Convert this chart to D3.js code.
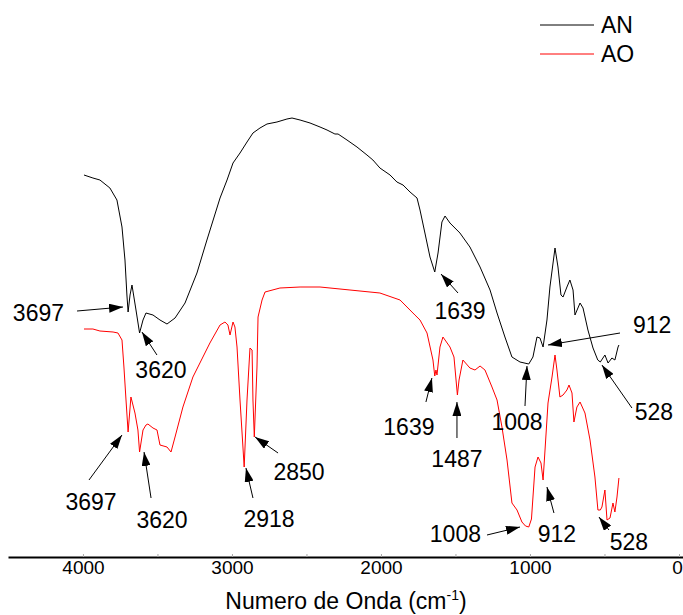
<!DOCTYPE html>
<html>
<head>
<meta charset="utf-8">
<script src="https://cdn.jsdelivr.net/npm/d3@7"></script>
<style>
    body { margin: 0; background: #fff; }
    text { font-family: Arial, "Liberation Sans", sans-serif; fill: #000; }
</style>
</head>
<body>
<script>
// FTIR spectra, AN and AO
// [wavenumber cm-1, transmittance (a.u.)]
var anSpectrum = [
    [3993, 77.0], [3933, 76.4], [3886, 76.0], [3819, 74.4], [3772, 72.0],
    [3738, 66.6], [3718, 60.0], [3705, 53.0], [3697, 49.6], [3684, 53.0],
    [3671, 55.0], [3644, 50.0], [3620, 45.4], [3597, 48.0], [3577, 49.4],
    [3530, 49.0], [3483, 48.0], [3436, 47.2], [3382, 48.4], [3315, 51.4],
    [3235, 57.4], [3168, 64.0], [3080, 72.4], [3033, 76.0], [2993, 79.4],
    [2946, 81.4], [2899, 83.6], [2859, 85.4], [2812, 86.4], [2765, 87.2],
    [2698, 87.6], [2631, 88.2], [2597, 88.4], [2543, 88.0], [2476, 87.4],
    [2409, 86.6], [2362, 86.0], [2309, 85.2], [2288, 85.2], [2228, 84.0],
    [2161, 82.6], [2094, 81.0], [2054, 80.0], [2007, 78.4], [1939, 77.0],
    [1893, 75.6], [1852, 75.0], [1805, 73.6], [1758, 72.4], [1738, 70.0],
    [1705, 65.4], [1671, 60.6], [1639, 57.6], [1617, 61.4], [1591, 67.6],
    [1570, 68.8], [1537, 67.4], [1470, 65.4], [1403, 62.6], [1335, 58.6],
    [1268, 54.0], [1221, 49.4], [1168, 44.6], [1121, 40.6], [1067, 39.6],
    [1008, 39.2], [980, 40.6], [953, 44.6], [933, 44.4], [912, 42.6],
    [886, 48.0], [866, 54.6], [832, 62.4], [812, 58.6], [792, 53.0],
    [778, 52.6], [752, 54.6], [732, 56.0], [711, 54.0], [698, 49.0],
    [664, 51.4], [644, 50.4], [611, 46.0], [577, 42.4], [545, 40.0],
    [528, 39.6], [497, 41.0], [476, 39.4], [450, 40.4], [430, 40.0],
    [409, 42.6], [403, 43.0]
];

var aoSpectrum = [
    [3993, 46.2], [3933, 46.2], [3886, 45.8], [3798, 45.6], [3765, 45.4],
    [3738, 44.0], [3725, 38.6], [3711, 32.0], [3697, 25.6], [3678, 32.6],
    [3651, 29.4], [3631, 26.0], [3620, 21.6], [3597, 26.0], [3577, 27.0],
    [3564, 27.2], [3530, 26.4], [3503, 26.0], [3483, 23.0], [3436, 22.6],
    [3409, 21.6], [3382, 24.6], [3329, 30.6], [3262, 36.6], [3215, 39.4],
    [3148, 43.4], [3080, 47.0], [3047, 47.6], [3027, 47.0], [3013, 45.0],
    [2993, 47.6], [2980, 46.6], [2966, 42.6], [2946, 32.0], [2918, 18.6],
    [2899, 32.0], [2879, 42.4], [2865, 42.0], [2859, 32.0], [2850, 24.6],
    [2832, 38.6], [2825, 48.6], [2798, 52.0], [2778, 53.6], [2678, 54.4],
    [2543, 54.6], [2409, 54.6], [2208, 54.0], [2007, 53.4], [1872, 52.0],
    [1772, 49.0], [1738, 48.0], [1691, 45.4], [1651, 40.0], [1639, 36.8],
    [1631, 38.0], [1624, 37.0], [1604, 42.6], [1584, 44.6], [1537, 42.6],
    [1510, 40.6], [1487, 33.0], [1476, 36.0], [1450, 40.0], [1403, 38.4],
    [1369, 38.0], [1335, 38.8], [1302, 38.0], [1255, 34.6], [1221, 32.0],
    [1188, 26.6], [1154, 20.0], [1121, 11.4], [1087, 10.0], [1054, 7.6],
    [1030, 6.8], [1008, 6.6], [990, 8.2], [966, 18.6], [946, 20.6],
    [926, 19.4], [912, 16.0], [899, 22.0], [879, 31.4], [852, 36.6],
    [832, 41.0], [819, 38.0], [799, 32.6], [778, 33.0], [752, 34.0],
    [738, 35.0], [718, 33.4], [705, 27.6], [685, 30.6], [664, 31.6],
    [631, 29.4], [597, 24.0], [564, 16.6], [544, 10.0], [528, 10.0],
    [517, 10.6], [497, 14.0], [483, 8.0], [463, 8.4], [443, 11.4],
    [430, 9.6], [416, 12.6], [403, 16.4]
];

var seriesNames = ["AN", "AO"];
var seriesColors = ["#000000", "#ff0000"];

var xTicks = [4000, 3500, 3000, 2500, 2000, 1500, 1000, 500, 0];
var xTickLabels = [4000, 3000, 2000, 1000, 0];

// peak labels: text, series, arrow tip [wavenumber, value]
var peakLabels = [
    ["3697", 0, 3731, 50.6], ["3620", 0, 3604, 45.6], ["1639", 0, 1597, 57.2],
    ["1008", 0, 1020, 38.8], ["912", 0, 879, 43.0], ["528", 0, 517, 39.0],
    ["3697", 1, 3738, 25.0], ["3620", 1, 3590, 21.6], ["2918", 1, 2906, 18.4],
    ["2850", 1, 2845, 24.6], ["1639", 1, 1658, 36.4], ["1487", 1, 1490, 31.6],
    ["1008", 1, 1067, 6.6], ["912", 1, 886, 14.6], ["528", 1, 537, 8.6]
];
// layout of each label: arrow tail offset and text offset from tip, anchor
var labelLayout = [
    [-46, 4, -59, 14, "end"], [15, 23, 19, 46, "middle"],
    [17, 19, 19, 45, "middle"], [-2, 40, -10, 64, "middle"],
    [72, -12, 85, -12, "start"], [30, 43, 52, 55, "middle"],
    [-33, 45, -31, 75, "middle"], [7, 46, 18, 76, "middle"],
    [7, 30, 23, 59, "middle"], [23, 16, 44, 43, "middle"],
    [-6, 24, -23, 57, "middle"], [0, 36, 0, 65, "middle"],
    [-33, 8, -39, 15, "end"], [7, 26, 10, 55, "middle"],
    [10, 13, 30, 33, "middle"]
];

var width = 683, height = 615;
var axisY = 557;

var x = d3.scaleLinear().domain([4503, -27]).range([8, 683]);
var y = d3.scaleLinear().domain([0, 100]).range([560, 60]);

var svg = d3.select("body").append("svg")
    .attr("width", width)
    .attr("height", height);

//Arrow head marker
svg.append("defs").append("marker")
    .attr("id", "head")
    .attr("viewBox", "0 -4.5 14 9")
    .attr("refX", 14)
    .attr("refY", 0)
    .attr("markerUnits", "userSpaceOnUse")
    .attr("markerWidth", 14)
    .attr("markerHeight", 9)
    .attr("orient", "auto")
    .append("path")
    .attr("d", "M0,-4.5L14,0L0,4.5Z")
    .attr("fill", "#000");

//X axis
var xAxis = d3.axisBottom(x)
    .tickValues(xTicks)
    .tickSizeInner(-3)
    .tickSizeOuter(0)
    .tickFormat(function(d) {
        return xTickLabels.indexOf(d) >= 0 ? d : "";
    });

var gx = svg.append("g")
    .attr("transform", "translate(0," + axisY + ")")
    .call(xAxis);
gx.select(".domain").attr("stroke", "#000").attr("stroke-width", 2);
gx.selectAll(".tick line").attr("stroke", "#aaa");
gx.selectAll(".tick text")
    .attr("y", 17)
    .attr("dy", null)
    .attr("dx", function(d) { return d === 0 ? -2 : 0; })
    .style("font-size", "19px")
    .style("font-family", "Arial, 'Liberation Sans', sans-serif");

//Axis title
var title = svg.append("text")
    .attr("x", 346)
    .attr("y", 609)
    .attr("text-anchor", "middle")
    .style("font-size", "23px");
title.append("tspan").text("Numero de Onda (cm");
title.append("tspan").attr("dy", -9).style("font-size", "14px").text("-1");
title.append("tspan").attr("dy", 9).text(")");

//Spectra
var line = d3.line()
    .x(function(d) { return x(d[0]); })
    .y(function(d) { return y(d[1]); });

[anSpectrum, aoSpectrum].forEach(function(s, i) {
    svg.append("path")
        .datum(s)
        .attr("d", line)
        .attr("fill", "none")
        .attr("stroke", seriesColors[i])
        .attr("stroke-width", 1);
});

//Peak labels with arrows
peakLabels.forEach(function(p, i) {
    var lay = labelLayout[i];
    var tx = x(p[2]), ty = y(p[3]);
    svg.append("line")
        .attr("x1", tx + lay[0])
        .attr("y1", ty + lay[1])
        .attr("x2", tx)
        .attr("y2", ty)
        .attr("stroke", "#000")
        .attr("stroke-width", 1)
        .attr("marker-end", "url(#head)");
    svg.append("text")
        .attr("x", tx + lay[2])
        .attr("y", ty + lay[3])
        .attr("text-anchor", lay[4])
        .style("font-size", "23px")
        .text(p[0]);
});

//Legend
var legend = svg.append("g").attr("transform", "translate(540,25)");
seriesNames.forEach(function(name, i) {
    legend.append("line")
        .attr("x1", 0)
        .attr("x2", 54)
        .attr("y1", i * 29)
        .attr("y2", i * 29)
        .attr("stroke", seriesColors[i])
        .attr("stroke-width", 1);
    legend.append("text")
        .attr("x", 61)
        .attr("y", i * 29 + 8)
        .style("font-size", "23px")
        .text(name);
});
</script>
</body>
</html>
